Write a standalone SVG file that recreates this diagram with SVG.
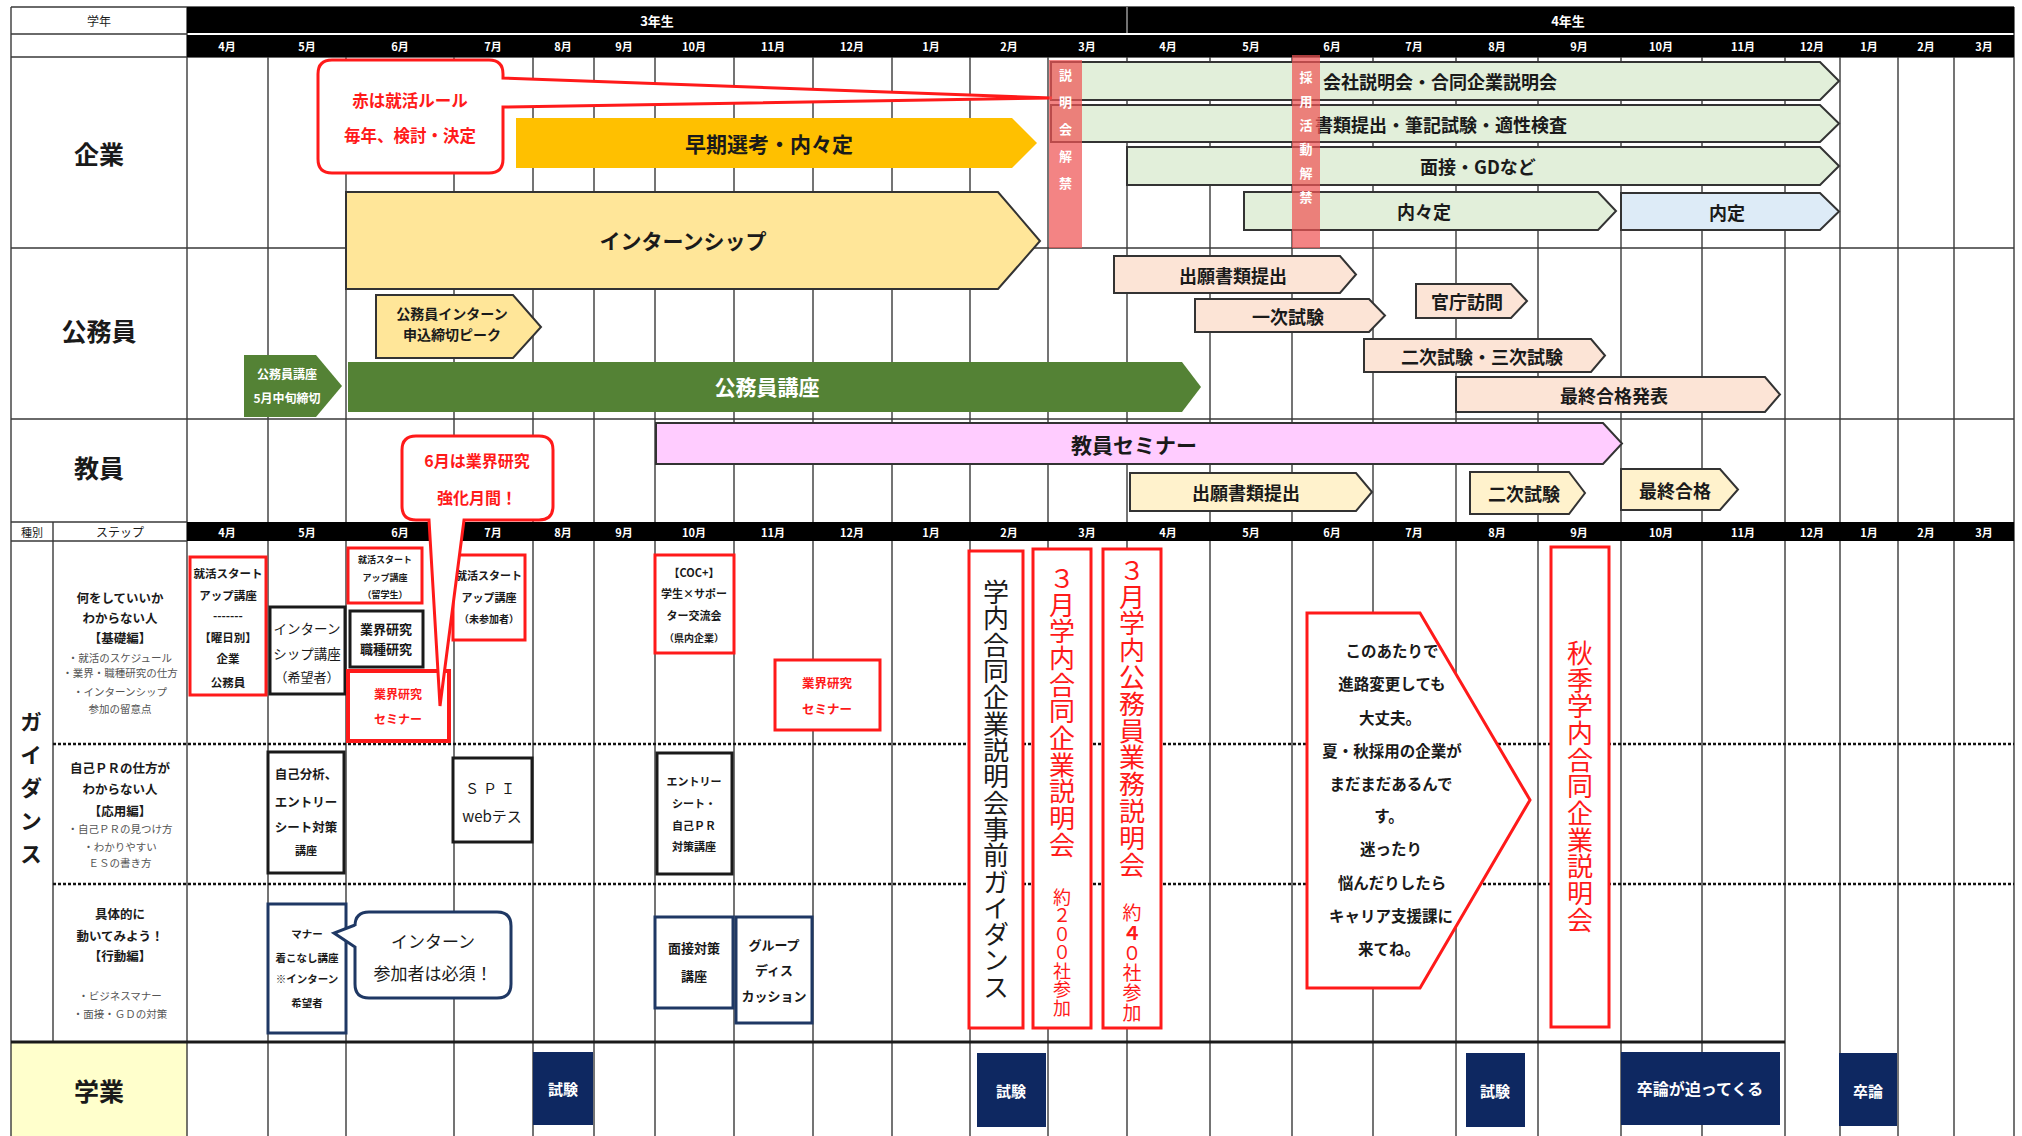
<svg xmlns="http://www.w3.org/2000/svg" width="2022" height="1136" viewBox="0 0 2022 1136">
<style>
text{font-family:"Noto Sans CJK JP","Noto Sans CJK SC","Noto Sans",sans-serif;text-anchor:middle;dominant-baseline:central;fill:#1a1a1a}
.b{font-weight:700}
.v{writing-mode:vertical-rl;text-anchor:start}
.grid{stroke:#3a3a3a;stroke-width:1.4;fill:none}
.hd{fill:#fff;font-weight:700;font-size:11px}
.ar{stroke:#333;stroke-width:2}
.rb{fill:#fff;stroke:#FF1A1A;stroke-width:3}
.kb{fill:#fff;stroke:#1a1a1a;stroke-width:3}
.nb{fill:#fff;stroke:#1F3864;stroke-width:3}
.lbl{font-size:18px;font-weight:700}
.big{font-size:21px;font-weight:700}
.sec{font-size:25px;font-weight:700}
.red{fill:#FF1A1A}
.desc{font-size:12.5px;font-weight:700}
.bul{font-size:10.5px;fill:#555}
.gk{fill:#0E2861}
.wt{fill:#fff;font-weight:700}
.ban{fill:#EE5555;fill-opacity:0.72}
</style>
<rect width="2022" height="1136" fill="#fff"/>

<g id="table">
  <rect x="11" y="1042" width="176" height="94" fill="#FFFFCC"/>
  <path class="grid" d="M268,57V1136M346,57V1136M454,57V1136M533,57V1136M594,57V1136M655,57V1136M734,57V1136M813,57V1136M892,57V1136M970,57V1136M1048,57V1136M1127,57V1136M1210,57V1136M1292,57V1136M1373,57V1136M1456,57V1136M1538,57V1136M1621,57V1136M1702,57V1136M1785,57V1136M1840,57V1136M1898,57V1136M1954,57V1136M187,7V1136M2014,7V1136M11,7V1136M53,522V1042"/>
  <path class="grid" d="M11,7H2014M11,34H187M11,57H2014M11,248H2014M11,419H2014M11,522H187M11,541H187"/>
  <path d="M11,1042H1785" stroke="#1a1a1a" stroke-width="3"/>
  <rect x="187" y="7" width="1827" height="26" fill="#000"/>
  <rect x="187" y="35" width="1827" height="22" fill="#000"/>
  <line x1="1127" y1="7" x2="1127" y2="33" stroke="#999" stroke-width="1.5"/>
  <rect x="187" y="522" width="1827" height="19" fill="#000"/>
  <path d="M53,744H2014M53,884H2014" stroke="#111" stroke-width="2.6" stroke-dasharray="3 2"/>
  <text x="99" y="20" font-size="12" fill="#333">学年</text>
  <text x="657" y="20" class="wt" font-size="13">3年生</text>
  <text x="1568" y="20" class="wt" font-size="13">4年生</text>
  <g class="hd">
    <text x="227" y="46" class="hd">4月</text><text x="307" y="46" class="hd">5月</text><text x="400" y="46" class="hd">6月</text><text x="493" y="46" class="hd">7月</text><text x="563" y="46" class="hd">8月</text><text x="624" y="46" class="hd">9月</text><text x="694" y="46" class="hd">10月</text><text x="773" y="46" class="hd">11月</text><text x="852" y="46" class="hd">12月</text><text x="931" y="46" class="hd">1月</text><text x="1009" y="46" class="hd">2月</text><text x="1087" y="46" class="hd">3月</text><text x="1168" y="46" class="hd">4月</text><text x="1251" y="46" class="hd">5月</text><text x="1332" y="46" class="hd">6月</text><text x="1414" y="46" class="hd">7月</text><text x="1497" y="46" class="hd">8月</text><text x="1579" y="46" class="hd">9月</text><text x="1661" y="46" class="hd">10月</text><text x="1743" y="46" class="hd">11月</text><text x="1812" y="46" class="hd">12月</text><text x="1869" y="46" class="hd">1月</text><text x="1926" y="46" class="hd">2月</text><text x="1984" y="46" class="hd">3月</text>
    <text x="227" y="531.5" class="hd">4月</text><text x="307" y="531.5" class="hd">5月</text><text x="400" y="531.5" class="hd">6月</text><text x="493" y="531.5" class="hd">7月</text><text x="563" y="531.5" class="hd">8月</text><text x="624" y="531.5" class="hd">9月</text><text x="694" y="531.5" class="hd">10月</text><text x="773" y="531.5" class="hd">11月</text><text x="852" y="531.5" class="hd">12月</text><text x="931" y="531.5" class="hd">1月</text><text x="1009" y="531.5" class="hd">2月</text><text x="1087" y="531.5" class="hd">3月</text><text x="1168" y="531.5" class="hd">4月</text><text x="1251" y="531.5" class="hd">5月</text><text x="1332" y="531.5" class="hd">6月</text><text x="1414" y="531.5" class="hd">7月</text><text x="1497" y="531.5" class="hd">8月</text><text x="1579" y="531.5" class="hd">9月</text><text x="1661" y="531.5" class="hd">10月</text><text x="1743" y="531.5" class="hd">11月</text><text x="1812" y="531.5" class="hd">12月</text><text x="1869" y="531.5" class="hd">1月</text><text x="1926" y="531.5" class="hd">2月</text><text x="1984" y="531.5" class="hd">3月</text>
  </g>
  <text x="32" y="531.5" font-size="11" fill="#555">種別</text>
  <text x="120" y="531.5" font-size="12" fill="#555">ステップ</text>
  <text x="99" y="153" class="sec">企業</text>
  <text x="99" y="330" class="sec">公務員</text>
  <text x="99" y="467" class="sec">教員</text>
  <text x="99" y="1090" class="sec">学業</text>
  <text x="31" y="711" class="b v" font-size="22" letter-spacing="11">ガイダンス</text>
</g>

<g id="steps">
  <text x="120" y="597" class="desc">何をしていいか</text>
  <text x="120" y="617" class="desc">わからない人</text>
  <text x="120" y="637" class="desc">【基礎編】</text>
  <text x="120" y="657" class="bul">・就活のスケジュール</text>
  <text x="120" y="672" class="bul">・業界・職種研究の仕方</text>
  <text x="120" y="691" class="bul">・インターンシップ</text>
  <text x="120" y="708" class="bul">参加の留意点</text>
  <text x="120" y="767" class="desc">自己ＰＲの仕方が</text>
  <text x="120" y="788" class="desc">わからない人</text>
  <text x="120" y="810" class="desc">【応用編】</text>
  <text x="120" y="828" class="bul">・自己ＰＲの見つけ方</text>
  <text x="120" y="846" class="bul">・わかりやすい</text>
  <text x="120" y="862" class="bul">ＥＳの書き方</text>
  <text x="120" y="913" class="desc">具体的に</text>
  <text x="120" y="935" class="desc">動いてみよう！</text>
  <text x="120" y="955" class="desc">【行動編】</text>
  <text x="120" y="995" class="bul">・ビジネスマナー</text>
  <text x="120" y="1013" class="bul">・面接・ＧＤの対策</text>
</g>

<g id="kigyo">
  <g id="soki"><polygon points="516,118 1012,118 1037,143 1012,168 516,168" fill="#FFC000"/><text x="769" y="143" class="big">早期選考・内々定</text></g>
  <g id="intern"><polygon class="ar" points="346,192 998,192 1040,241 998,289 346,289" fill="#FFE699"/><text x="683" y="240" class="big">インターンシップ</text></g>
  <g id="setsumeikai"><polygon class="ar" points="1051,62 1820,62 1839,81 1820,100 1051,100" fill="#E2EFDA"/><text x="1440" y="81" class="lbl">会社説明会・合同企業説明会</text></g>
  <g id="shorui"><polygon class="ar" points="1051,105 1820,105 1839,123.5 1820,142 1051,142" fill="#E2EFDA"/><text x="1441" y="123.5" class="lbl">書類提出・筆記試験・適性検査</text></g>
  <g id="mensetsu"><polygon class="ar" points="1127,147 1820,147 1839,166 1820,185 1127,185" fill="#E2EFDA"/><text x="1478" y="166" class="lbl">面接・GDなど</text></g>
  <g id="naunaitei"><polygon class="ar" points="1244,192 1598,192 1616,211 1598,230 1244,230" fill="#E2EFDA"/><text x="1424" y="211" class="lbl">内々定</text></g>
  <g id="naitei"><polygon class="ar" points="1621,193 1820,193 1839,211.5 1820,230 1621,230" fill="#DDEBF7"/><text x="1727" y="211.5" class="lbl">内定</text></g>
  <g id="rule-callout"><path d="M332,60H489Q503,60 503,74V78L1052,98L503,107V159Q503,173 489,173H332Q318,173 318,159V74Q318,60 332,60Z" fill="#fff" stroke="#FF1A1A" stroke-width="3"/>
    <text x="410" y="100" class="b red" font-size="16.5">赤は就活ルール</text>
    <text x="410" y="135" class="b red" font-size="16.5">毎年、検討・決定</text></g>
  <g id="kaikin1"><rect x="1049" y="60" width="33" height="188" class="ban"/>
    <text x="1065.5" y="68.5" class="wt v" font-size="13" letter-spacing="14">説明会解禁</text></g>
  <g id="kaikin2"><rect x="1292" y="55" width="28" height="193" class="ban"/>
    <text x="1306" y="70.5" class="wt v" font-size="13" letter-spacing="11">採用活動解禁</text></g>
</g>

<g id="komuin">
  <g id="k-intern"><polygon class="ar" points="376,295 513,295 541,327 513,358 376,358" fill="#FFE699"/><text x="452" y="313" class="b" font-size="14">公務員インターン</text><text x="452" y="334" class="b" font-size="14">申込締切ピーク</text></g>
  <g id="k-shime"><polygon points="244,355 316,355 342,386 316,417 244,417" fill="#548235"/><text x="287" y="373" class="wt" font-size="12">公務員講座</text><text x="287" y="397" class="wt" font-size="12">5月中旬締切</text></g>
  <g id="k-koza"><polygon points="348,362 1182,362 1201,387 1182,412 348,412" fill="#548235"/><text x="767" y="386" class="wt" font-size="21">公務員講座</text></g>
  <g id="k-shutsugan"><polygon class="ar" points="1114,256 1340,256 1356,274.5 1340,293 1114,293" fill="#FCE4D6"/><text x="1233" y="274.5" class="lbl">出願書類提出</text></g>
  <g id="k-ichiji"><polygon class="ar" points="1195,299 1369,299 1385,315.5 1369,332 1195,332" fill="#FCE4D6"/><text x="1288" y="315.5" class="lbl">一次試験</text></g>
  <g id="k-kancho"><polygon class="ar" points="1416,284 1511,284 1527,301 1511,318 1416,318" fill="#FCE4D6"/><text x="1467" y="301" class="lbl">官庁訪問</text></g>
  <g id="k-niji"><polygon class="ar" points="1364,339 1591,339 1605,355.5 1591,372 1364,372" fill="#FCE4D6"/><text x="1482" y="355.5" class="lbl">二次試験・三次試験</text></g>
  <g id="k-saishu"><polygon class="ar" points="1456,377 1765,377 1780,394.5 1765,412 1456,412" fill="#FCE4D6"/><text x="1614" y="394.5" class="lbl">最終合格発表</text></g>
</g>

<g id="kyoin">
  <g id="t-seminar"><polygon class="ar" points="656,423 1603,423 1622,443.5 1603,464 656,464" fill="#FFCCFF"/><text x="1134" y="443.5" class="big">教員セミナー</text></g>
  <g id="t-shutsugan"><polygon class="ar" points="1130,473 1356,473 1372,492 1356,511 1130,511" fill="#FFF2CC"/><text x="1246" y="492" class="lbl">出願書類提出</text></g>
  <g id="t-niji"><polygon class="ar" points="1470,472 1569,472 1585,493 1569,514 1470,514" fill="#FFF2CC"/><text x="1524" y="493" class="lbl">二次試験</text></g>
  <g id="t-saishu"><polygon class="ar" points="1621,469 1720,469 1738,489.5 1720,510 1621,510" fill="#FFF2CC"/><text x="1675" y="489.5" class="lbl">最終合格</text></g>
</g>

<g id="guidance">
  <g id="g1"><rect x="190" y="557" width="76" height="138" class="rb"/>
    <text x="228" y="573" class="b" font-size="11.5">就活スタート</text><text x="228" y="595" class="b" font-size="11.5">アップ講座</text><text x="228" y="615" class="b" font-size="11.5">-------</text><text x="228" y="637" class="b" font-size="11.5">【曜日別】</text><text x="228" y="658" class="b" font-size="11.5">企業</text><text x="228" y="682" class="b" font-size="11.5">公務員</text></g>
  <g id="g2"><rect x="348" y="548" width="74" height="55" class="rb"/>
    <text x="385" y="559" class="b" font-size="9">就活スタート</text><text x="385" y="577" class="b" font-size="9">アップ講座</text><text x="385" y="594" class="b" font-size="9">（留学生）</text></g>
  <g id="g3"><rect x="350" y="611" width="73" height="56" class="kb"/>
    <text x="386" y="628" class="b" font-size="13">業界研究</text><text x="386" y="648" class="b" font-size="13">職種研究</text></g>
  <g id="g4"><rect x="270" y="607" width="75" height="87" class="kb"/>
    <text x="307" y="628" font-size="13.5">インターン</text><text x="307" y="653" font-size="13.5">シップ講座</text><text x="307" y="676" font-size="13">（希望者）</text></g>
  <g id="g5"><rect x="348" y="671" width="101" height="70" fill="#fff" stroke="#FF1A1A" stroke-width="4"/>
    <text x="398" y="693" class="b red" font-size="12">業界研究</text><text x="398" y="718" class="b red" font-size="12">セミナー</text></g>
  <g id="g6"><rect x="453" y="555" width="72" height="85" class="rb"/>
    <text x="489" y="575" class="b" font-size="11">就活スタート</text><text x="489" y="597" class="b" font-size="11">アップ講座</text><text x="489" y="618" class="b" font-size="10">（未参加者）</text></g>
  <g id="g7"><rect x="655" y="555" width="79" height="98" class="rb"/>
    <text x="694" y="572" class="b" font-size="11">【COC+】</text><text x="694" y="593" class="b" font-size="11">学生×サポー</text><text x="694" y="615" class="b" font-size="11">ター交流会</text><text x="694" y="637" class="b" font-size="10">（県内企業）</text></g>
  <g id="g8"><rect x="775" y="660" width="105" height="70" class="rb"/>
    <text x="827" y="682" class="b red" font-size="12.5">業界研究</text><text x="827" y="708" class="b red" font-size="12.5">セミナー</text></g>
  <g id="g9"><rect x="969" y="551" width="54" height="477" class="rb"/>
    <text x="996" y="579" class="v" font-size="26" letter-spacing="0.33">学内合同企業説明会事前ガイダンス</text></g>
  <g id="g10"><rect x="1033" y="549" width="58" height="479" class="rb"/>
    <text x="1062" y="565" class="v red" font-size="26" letter-spacing="0.7">３月学内合同企業説明会</text>
    <text x="1062" y="888" class="v red" font-size="18" letter-spacing="0.5">約２００社参加</text></g>
  <g id="g11"><rect x="1103" y="549" width="58" height="479" class="rb"/>
    <text x="1132" y="557" class="v red" font-size="26" letter-spacing="0.8">３月学内公務員業務説明会</text>
    <text x="1132" y="903.5" class="v red" font-size="19" letter-spacing="1">約<tspan font-weight="700">４</tspan>０社参加</text></g>
  <g id="g12"><rect x="657" y="753" width="75" height="121" class="kb"/>
    <text x="694" y="781" class="b" font-size="11">エントリー</text><text x="694" y="803" class="b" font-size="11">シート・</text><text x="694" y="825" class="b" font-size="11">自己ＰＲ</text><text x="694" y="846" class="b" font-size="11">対策講座</text></g>
  <g id="g13"><rect x="655" y="917" width="78" height="91" class="nb"/>
    <text x="694" y="947" class="b" font-size="13">面接対策</text><text x="694" y="975" class="b" font-size="13">講座</text></g>
  <g id="g14"><rect x="736" y="917" width="76" height="106" class="nb"/>
    <text x="774" y="944" class="b" font-size="13">グループ</text><text x="774" y="969" class="b" font-size="13">ディス</text><text x="774" y="995" class="b" font-size="13">カッション</text></g>
  <g id="g15"><rect x="268" y="752" width="76" height="121" class="kb"/>
    <text x="306" y="773" class="b" font-size="12.5">自己分析、</text><text x="306" y="801" class="b" font-size="12.5">エントリー</text><text x="306" y="826" class="b" font-size="12.5">シート対策</text><text x="306" y="850" class="b" font-size="11">講座</text></g>
  <g id="g16"><rect x="453" y="758" width="79" height="84" class="kb"/>
    <text x="492" y="788" font-size="14" letter-spacing="4">ＳＰＩ</text><text x="492" y="815" font-size="15">webテス</text></g>
  <g id="g17"><rect x="268" y="904" width="78" height="129" class="nb"/>
    <text x="307" y="933" class="b" font-size="10.5">マナー</text><text x="307" y="957" class="b" font-size="10.5">着こなし講座</text><text x="307" y="978" class="b" font-size="10.5">※インターン</text><text x="307" y="1002" class="b" font-size="10.5">希望者</text></g>
  <g id="g18"><path d="M369,912H497Q511,912 511,926V984Q511,998 497,998H369Q355,998 355,984V947L334,933L355,925V926Q355,912 369,912Z" fill="#fff" stroke="#1F3864" stroke-width="3"/>
    <text x="433" y="940" font-size="17">インターン</text><text x="433" y="972" font-size="17">参加者は必須！</text></g>
  <g id="g19"><polygon points="1307,613 1420,613 1530,800 1420,988 1307,988" fill="#fff" stroke="#FF1A1A" stroke-width="3"/>
    <text x="1392" y="650" class="b" font-size="15.5">このあたりで</text><text x="1392" y="683" class="b" font-size="15.5">進路変更しても</text><text x="1390" y="717" class="b" font-size="15.5">大丈夫。</text><text x="1392" y="750" class="b" font-size="15.5">夏・秋採用の企業が</text><text x="1391" y="783" class="b" font-size="15.5">まだまだあるんで</text><text x="1389" y="815" class="b" font-size="15.5">す。</text><text x="1391" y="848" class="b" font-size="15.5">迷ったり</text><text x="1392" y="882" class="b" font-size="15.5">悩んだりしたら</text><text x="1391" y="915" class="b" font-size="15.5">キャリア支援課に</text><text x="1389" y="948" class="b" font-size="15.5">来てね。</text></g>
  <g id="g20"><rect x="1551" y="547" width="58" height="480" class="rb"/>
    <text x="1580" y="640" class="v red" font-size="26" letter-spacing="0.7">秋季学内合同企業説明会</text></g>
  <g id="june-callout"><path d="M416,436H539Q553,436 553,450V506Q553,520 539,520H464L440,706L429,520H416Q402,520 402,506V450Q402,436 416,436Z" fill="#fff" stroke="#FF1A1A" stroke-width="3"/>
    <text x="477" y="460" class="b red" font-size="16">6月は業界研究</text><text x="477" y="497" class="b red" font-size="16">強化月間！</text></g>
</g>

<g id="gakugyo">
  <g><rect x="533" y="1052" width="60" height="73" class="gk"/><text x="563" y="1088" class="wt" font-size="15">試験</text></g>
  <g><rect x="977" y="1053" width="69" height="74" class="gk"/><text x="1011" y="1090" class="wt" font-size="15">試験</text></g>
  <g><rect x="1466" y="1053" width="59" height="74" class="gk"/><text x="1495" y="1090" class="wt" font-size="15">試験</text></g>
  <g><rect x="1621" y="1052" width="159" height="73" class="gk"/><text x="1700" y="1088" class="wt" font-size="16">卒論が迫ってくる</text></g>
  <g><rect x="1839" y="1053" width="58" height="73" class="gk"/><text x="1868" y="1090" class="wt" font-size="15">卒論</text></g>
</g>
</svg>
